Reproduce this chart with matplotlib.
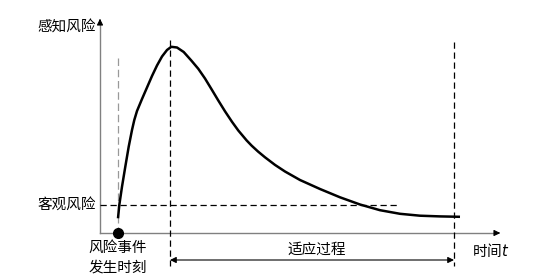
import numpy as np
import matplotlib; matplotlib.use("Agg")
import matplotlib.pyplot as plt

plt.rcParams['font.family'] = ['Noto Sans CJK SC', 'DejaVu Sans']

# perceived risk curve (x = time, y = height from top)
t_curve = [118.0, 119.3, 122.0, 125.3, 128.7, 132.0, 134.3, 137.0, 142.0, 147.0,
           152.0, 157.0, 162.0, 167.0, 171.3, 177.0, 183.7, 191.3, 198.3, 205.0,
           211.7, 218.3, 225.0, 232.0, 238.3, 246.7, 251.7, 258.0, 265.0, 275.0,
           285.0, 300.0, 320.0, 340.0, 360.0, 380.0, 400.0, 420.0, 440.0, 460.0]
risk_curve = [218.3, 205.0, 186.7, 166.7, 146.7, 130.0, 120.0, 111.0, 99.0, 87.5,
              76.0, 65.5, 56.5, 50.0, 46.8, 47.5, 52.0, 60.5, 68.8, 78.5,
              89.5, 100.5, 111.3, 121.8, 130.5, 140.5, 145.7, 151.5, 157.3, 164.9,
              171.5, 180.0, 189.0, 197.3, 204.5, 210.2, 213.8, 215.7, 216.4, 216.8]

t_event, t_peak, t_end = 118, 170, 454
y_axis_x, x_axis_y = 100, 233
objective_risk = 205
t_axis_end, y_axis_top = 503, 16

fig = plt.figure(figsize=(5.6, 2.8), dpi=100)
ax = fig.add_axes([0, 0, 1, 1])
ax.set_xlim(0, 560); ax.set_ylim(280, 0); ax.axis("off")

# axes
ax.plot([y_axis_x, y_axis_x], [x_axis_y, y_axis_top + 6], color="#808080", lw=1)
ax.plot([y_axis_x, t_axis_end - 6], [x_axis_y, x_axis_y], color="#808080", lw=1)
ax.annotate("", xy=(y_axis_x, y_axis_top), xytext=(y_axis_x, y_axis_top + 8),
            arrowprops=dict(arrowstyle="-|>", color="black", lw=0.8, mutation_scale=9))
ax.annotate("", xy=(t_axis_end, x_axis_y), xytext=(t_axis_end - 8, x_axis_y),
            arrowprops=dict(arrowstyle="-|>", color="black", lw=0.8, mutation_scale=9))

# reference lines
ax.plot([y_axis_x, 397], [objective_risk, objective_risk], color="black", lw=0.9, ls=(0, (5, 3)))
ax.plot([t_event, t_event], [58, x_axis_y], color="#999999", lw=0.9, ls=(0, (6, 3)))
ax.plot([t_peak, t_peak], [40, 266], color="black", lw=0.9, ls=(0, (5, 3)))
ax.plot([t_end, t_end], [42, 266], color="black", lw=0.9, ls=(0, (5, 3)))

# curve
ax.plot(t_curve, risk_curve, color="black", lw=1.8, solid_capstyle="butt", solid_joinstyle="round")
ax.plot(t_event, x_axis_y, "o", color="black", ms=7)

# adaptation span
ax.annotate("", xy=(t_peak, 260), xytext=(t_end, 260),
            arrowprops=dict(arrowstyle="<|-|>", color="black", lw=0.8, mutation_scale=9,
                            shrinkA=0, shrinkB=0))

fs = 10.5
ax.text(96, 28, "感知风险", ha="right", va="center", fontsize=fs)
ax.text(96, objective_risk, "客观风险", ha="right", va="center", fontsize=fs)
ax.text(t_event, 248, "风险事件", ha="center", va="center", fontsize=fs)
ax.text(t_event, 268, "发生时刻", ha="center", va="center", fontsize=fs)
ax.text(317, 250, "适应过程", ha="center", va="center", fontsize=fs)
ax.text(472, 250, "时间$t$", ha="left", va="center", fontsize=fs)

fig.savefig("out.png", dpi=100)
